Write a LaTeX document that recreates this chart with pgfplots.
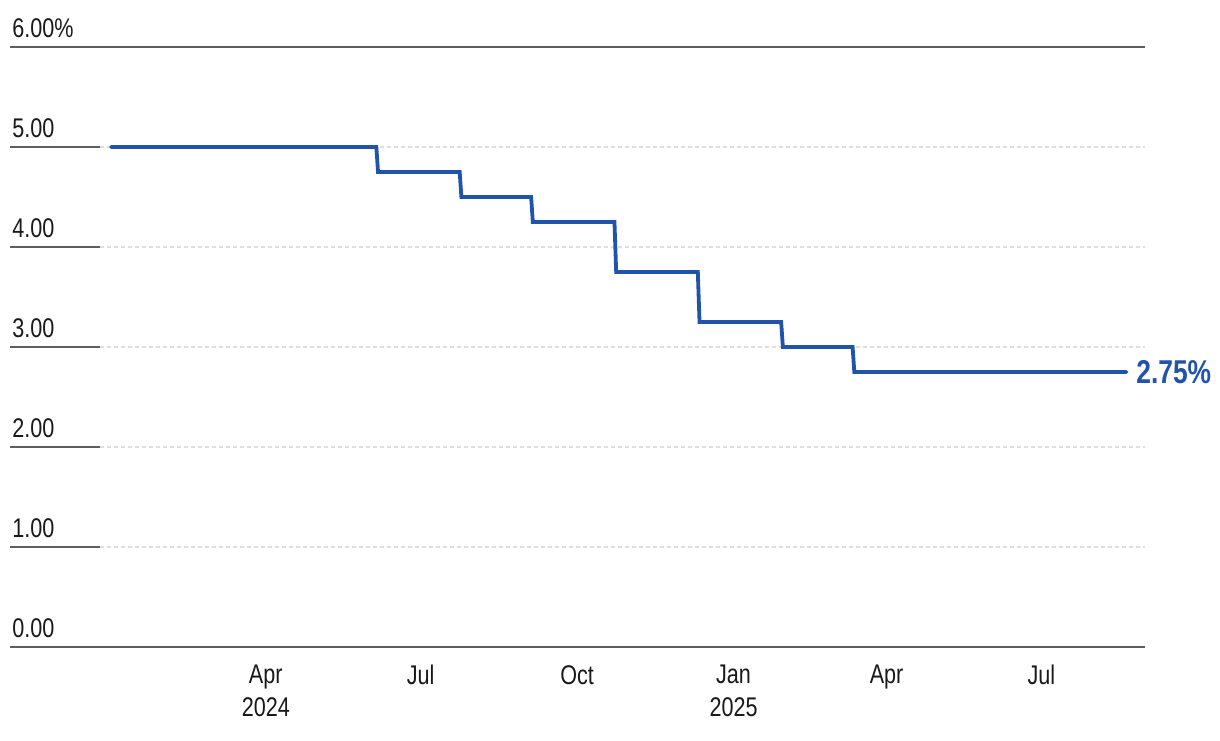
\documentclass[border=0pt]{standalone}
\usepackage{pgfplots}
\pgfplotsset{compat=1.18}
\usepackage{fontspec}
\setmainfont{Liberation Sans}[FakeStretch=0.8]
\definecolor{rateblue}{RGB}{31,84,170}
\definecolor{axgray}{RGB}{95,95,95}
\definecolor{gridgray}{RGB}{222,222,222}
\begin{document}
\begin{tikzpicture}
\useasboundingbox (0pt,0pt) rectangle (610pt,-370pt);
\begin{axis}[
  at={(50pt,-323.5pt)}, anchor=south west,
  scale only axis, width=522.5pt, height=300pt,
  xmin=-6.46, xmax=607.9, ymin=0, ymax=6,
  axis x line*=bottom, axis y line*=left,
  x axis line style={-, color=axgray, line width=1pt},
  y axis line style={draw=none},
  xtick={91,182,274,366,456,547},
  xticklabels={Apr\\2024,Jul,Oct,Jan\\2025,Apr,Jul},
  xtick style={draw=none},
  xticklabel style={font=\fontsize{13.5}{16.5}\selectfont, align=center, anchor=north, inner sep=0pt, yshift=36pt, text=black!90},
  ytick={0,1,2,3,4,5},
  yticklabels={0.00,1.00,2.00,3.00,4.00,5.00},
  extra y ticks={6}, extra y tick labels={6.00\%},
  extra y tick style={major grid style={solid, color=axgray, line width=0.6pt}},
  tick align=outside, major tick length=45pt,
  ytick style={color=axgray, line width=1pt},
  yticklabel style={font=\fontsize{13.5}{16}\selectfont, anchor=south west, inner sep=0pt, xshift=1pt, yshift=4.5pt, text=black!90},
  ymajorgrids,
  major grid style={dash pattern=on 2pt off 1.5pt, color=gridgray, line width=0.75pt},
  clip=false,
]
\addplot[color=rateblue, line width=1.9pt, line cap=round] coordinates {
(0,5.00) (156,5.00) (157,4.75) (205,4.75) (206,4.50) (247,4.50) (248,4.25)
(296,4.25) (297,3.75) (345,3.75) (346,3.25) (394,3.25) (395,3.00)
(436,3.00) (437,2.75) (597,2.75)
} node[pos=1, anchor=west, xshift=4pt, font=\fontsize{16.5}{18}\selectfont\bfseries, text=rateblue, inner sep=0pt] {2.75\%};
\end{axis}
\end{tikzpicture}
\end{document}
